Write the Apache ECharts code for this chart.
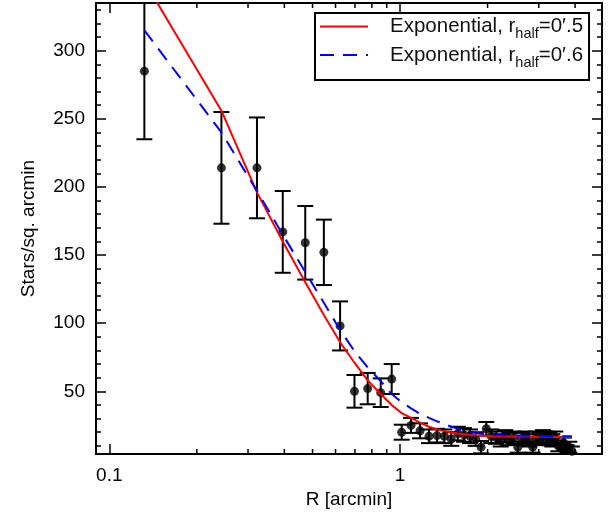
<!DOCTYPE html>
<html>
<head>
<meta charset="utf-8">
<script src="https://cdn.jsdelivr.net/npm/echarts@6/dist/echarts.min.js"></script>
<style>
html,body{margin:0;padding:0;background:#fff;}
#chart{width:609px;height:518px;}
</style>
</head>
<body>
<div id="chart"></div>
<script>
// ---- data ----
const radius = [0.132, 0.243, 0.322, 0.395, 0.472, 0.547, 0.622, 0.697, 0.774, 0.858, 0.936,
  1.013, 1.091, 1.172, 1.258, 1.34, 1.42, 1.50, 1.58, 1.66, 1.74, 1.82, 1.90, 1.98, 2.06,
  2.14, 2.22, 2.30, 2.38, 2.46, 2.54, 2.62, 2.70, 2.78, 2.86, 2.94, 3.02, 3.10, 3.18, 3.26,
  3.34, 3.42, 3.50, 3.58, 3.66, 3.74, 3.82, 3.90];
const density = [285, 214, 214, 167, 159, 152, 98, 50, 52, 49, 59,
  20, 25, 21, 17, 17.5, 17, 15, 19, 18, 17, 15, 9, 22.5, 17,
  16, 14, 17, 15, 16, 9, 15, 16, 14, 9, 16, 15, 17, 16, 15,
  14, 16, 10, 8, 12, 7, 9, 6];
const densityErr = [50, 41, 37, 30, 27, 24, 18, 12, 11.5, 10.5, 11,
  5.5, 5.5, 5.5, 5, 5, 5, 5, 5, 5, 5, 5, 4.5, 5, 5,
  4.5, 4.5, 4.5, 4.5, 4.5, 4, 4.5, 4.5, 4.5, 4, 4.5, 4.5, 4.5, 4.5, 4.5,
  4.5, 4.5, 4, 4, 4, 3.5, 4, 3.5];
const modelHalf05 = [351, 256, 196, 160, 130, 106, 86, 71, 58, 48, 40,
  34, 30.5, 27, 24, 22, 20.8, 19.8, 19, 18.5, 18, 17.7, 17.5, 17.3, 17.2,
  17.1, 17.0, 17.0, 16.9, 16.9, 16.8, 16.8, 16.8, 16.7, 16.7, 16.7, 16.6, 16.6, 16.6, 16.6,
  16.6, 16.5, 16.5, 16.5, 16.5, 16.5, 16.5, 16.5];
const modelHalf06 = [315, 240, 197, 165, 137.5, 115, 95, 79.5, 67.5, 57.5, 48,
  42, 37.5, 33.5, 30.5, 28, 26, 24, 22.5, 21.3, 20.3, 19.5, 19, 18.5, 18.2,
  18.0, 17.9, 17.8, 17.7, 17.6, 17.5, 17.5, 17.4, 17.4, 17.3, 17.3, 17.3, 17.2, 17.2, 17.2,
  17.1, 17.1, 17.1, 17.0, 17.0, 17.0, 17.0, 17.0];
const xMajorTicks = [0.1, 1];
const xMinorTicks = [0.2, 0.3, 0.4, 0.5, 0.6, 0.7, 0.8, 0.9, 2, 3, 4];
const yTickLabels = [50, 100, 150, 200, 250, 300];
const seriesNames = ['Exponential, r_half=0.5', 'Exponential, r_half=0.6'];
const legendLabels = ['0′.5', '0′.6'];

const FONT = 'Liberation Sans, Arial, Helvetica, sans-serif';
const chart = echarts.init(document.getElementById('chart'));

const tickLine = {color: '#000', width: 1.5};

function xAxisCfg(pos) {
  return {
    type: 'log', logBase: 10, min: 0.09, max: 4.95, position: pos,
    axisLine: {show: false}, splitLine: {show: false},
    axisTick: {show: true, inside: true, length: 10, lineStyle: tickLine},
    minorTick: {show: false},
    axisLabel: {
      show: pos === 'bottom', margin: 12, fontSize: 19, color: '#000', fontFamily: FONT,
      showMinLabel: false, showMaxLabel: false,
      formatter: function (v) {
        for (const t of xMajorTicks) { if (Math.abs(v - t) < 1e-6 * t) return String(t); }
        return '';
      }
    },
    name: pos === 'bottom' ? 'R [arcmin]' : '',
    nameLocation: 'middle', nameGap: 34,
    nameTextStyle: {fontSize: 19, color: '#000', fontFamily: FONT}
  };
}
function yAxisCfg(pos) {
  return {
    type: 'value', min: 4, max: 335, minInterval: 50, maxInterval: 50, position: pos,
    axisLine: {show: false}, splitLine: {show: false},
    axisTick: {show: true, inside: true, length: 10, lineStyle: tickLine},
    minorTick: {show: true, splitNumber: 5, length: 5, lineStyle: tickLine},
    minorSplitLine: {show: false},
    axisLabel: {
      show: pos === 'left', margin: 11, fontSize: 19, color: '#000', fontFamily: FONT,
      showMinLabel: false, showMaxLabel: false,
      formatter: function (v) { return yTickLabels.indexOf(Math.round(v)) >= 0 && Math.abs(v - Math.round(v)) < 1e-6 ? String(Math.round(v)) : ''; }
    },
    name: pos === 'left' ? 'Stars/sq. arcmin' : '',
    nameLocation: 'middle', nameGap: 58,
    nameTextStyle: {fontSize: 19, color: '#000', fontFamily: FONT}
  };
}

const points = radius.map((r, i) => [r, density[i]]);
const errBars = radius.map((r, i) => [r, density[i] - densityErr[i], density[i] + densityErr[i]]);
const red = radius.map((r, i) => [r, modelHalf05[i]]);
const blue = radius.map((r, i) => [r, modelHalf06[i]]);

const option = {
  animation: false,
  backgroundColor: '#fff',
  grid: {left: 96, right: 7, top: 3, bottom: 64, show: true, borderColor: '#000', borderWidth: 2, backgroundColor: 'transparent'},
  xAxis: [xAxisCfg('bottom'), xAxisCfg('top')],
  yAxis: [yAxisCfg('left'), yAxisCfg('right')],
  legend: {
    data: seriesNames,
    orient: 'vertical', left: 315, top: 13,
    borderColor: '#000', borderWidth: 2, backgroundColor: '#fff',
    padding: [3, 6, 10, 4], itemGap: 3, itemWidth: 48, itemHeight: 14,
    itemStyle: {opacity: 0},
    selectedMode: false,
    formatter: function (name) {
      const i = seriesNames.indexOf(name);
      return '{g|}{n|Exponential, r}{s|half}{n|=' + legendLabels[i] + '}';
    },
    textStyle: {
      color: '#000', fontFamily: FONT, fontSize: 19,
      rich: {
        g: {width: 17},
        n: {fontSize: 20.5, lineHeight: 22, fontFamily: FONT, color: '#111'},
        s: {fontSize: 14.5, lineHeight: 14, verticalAlign: 'bottom', fontFamily: FONT, color: '#111', padding: [0, 0, -4, 0]}
      }
    }
  },
  series: [
    {
      type: 'custom', name: 'errors', xAxisIndex: 0, yAxisIndex: 0, clip: true, silent: true, z: 2,
      data: errBars,
      encode: {x: 0, y: [1, 2]},
      renderItem: function (params, api) {
        const x = api.value(0);
        const lo = api.coord([x, api.value(1)]);
        const hi = api.coord([x, api.value(2)]);
        const w = 8;
        const st = {stroke: '#000', lineWidth: 2};
        return {type: 'group', children: [
          {type: 'line', shape: {x1: lo[0], y1: lo[1], x2: hi[0], y2: hi[1]}, style: st},
          {type: 'line', shape: {x1: lo[0] - w, y1: lo[1], x2: lo[0] + w, y2: lo[1]}, style: st},
          {type: 'line', shape: {x1: hi[0] - w, y1: hi[1], x2: hi[0] + w, y2: hi[1]}, style: st}
        ]};
      }
    },
    {
      type: 'scatter', name: 'data', data: points, symbol: 'circle', symbolSize: 9,
      itemStyle: {color: '#000'}, z: 3, silent: true
    },
    {
      type: 'line', name: seriesNames[0], data: red, symbol: 'none', showSymbol: false,
      lineStyle: {color: '#ff0000', width: 2, type: 'solid'}, itemStyle: {color: '#ff0000'}, z: 4, silent: true
    },
    {
      type: 'line', name: seriesNames[1], data: blue, symbol: 'none', showSymbol: false,
      lineStyle: {color: '#0000ff', width: 2, type: [14, 9]}, itemStyle: {color: '#0000ff'}, z: 5, silent: true
    },
    {
      type: 'custom', name: 'minorX', xAxisIndex: 0, yAxisIndex: 0, silent: true, z: 6,
      data: xMinorTicks.map(v => [v, 100]),
      encode: {x: 0, y: 1},
      renderItem: function (params, api) {
        const x = api.coord([api.value(0), 100])[0];
        const cs = params.coordSys;
        const st = {stroke: '#000', lineWidth: 1.5};
        return {type: 'group', children: [
          {type: 'line', shape: {x1: x, y1: cs.y + cs.height, x2: x, y2: cs.y + cs.height - 5}, style: st},
          {type: 'line', shape: {x1: x, y1: cs.y, x2: x, y2: cs.y + 5}, style: st}
        ]};
      }
    }
  ]
};
chart.setOption(option);
</script>
</body>
</html>
